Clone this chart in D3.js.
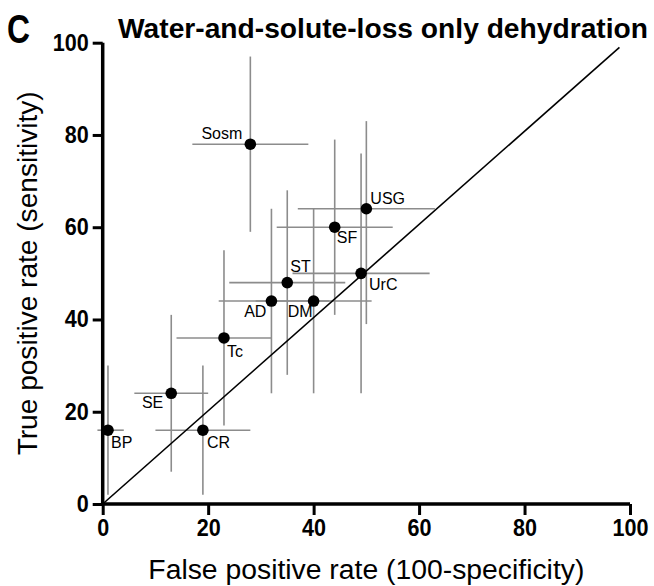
<!DOCTYPE html>
<html>
<head>
<meta charset="utf-8">
<script src="https://cdn.jsdelivr.net/npm/d3@7"></script>
<style>
  body { margin: 0; background: #fff; }
  text { font-family: Arial, "Liberation Sans", sans-serif; }
</style>
</head>
<body>
<script>
// values
var tests = ["BP", "SE", "CR", "Tc", "AD", "DM", "ST", "UrC", "SF", "USG", "Sosm"];
var fpr   = [1, 13, 19, 23, 32, 40, 35, 49, 44, 50, 28];
var tpr   = [16, 24, 16, 36, 44, 44, 48, 50, 60, 64, 78];
var fprLo = [-1, 6, 10, 14, 22, 29, 24, 36, 33, 37, 17];
var fprHi = [4, 20, 28, 32, 43, 51, 46, 62, 55, 63, 39];
var tprLo = [2, 7, 2, 17, 24, 24, 28, 24, 41, 39, 59];
var tprHi = [30, 41, 30, 55, 64, 64, 68, 76, 79, 83, 97];
var ticks = [0, 20, 40, 60, 80, 100];
var diagX = [0, 98];
var diagY = [0, 99];

var W = 654, H = 586;
var svg = d3.select("body").append("svg")
    .attr("width", W)
    .attr("height", H);

var x = d3.scaleLinear().domain([0, 100]).range([102.7, 630]);
var y = d3.scaleLinear().domain([0, 100]).range([504, 42.7]);

// where each label sits next to its dot
var lab = {
  Sosm: ["end", -8, -5], ST: ["start", 3, -11], SF: ["start", 2, 16],
  USG: ["start", 4, -5], UrC: ["start", 8, 17], AD: ["end", -5, 16],
  DM: ["end", -1, 16], Tc: ["start", 3, 19], SE: ["end", -8, 15],
  CR: ["start", 4, 18], BP: ["start", 3, 18]
};

var pts = tests.map(function(t, i) {
  return {name: t, x: fpr[i], y: tpr[i], x0: fprLo[i], x1: fprHi[i], y0: tprLo[i], y1: tprHi[i]};
});

// error bars
var bars = svg.append("g").attr("stroke", "#8c8c8c").attr("stroke-width", 1.6);
bars.selectAll("line.h").data(pts).enter().append("line")
    .attr("class", "h")
    .attr("x1", function(d) { return x(d.x0); })
    .attr("x2", function(d) { return x(d.x1); })
    .attr("y1", function(d) { return y(d.y); })
    .attr("y2", function(d) { return y(d.y); });
bars.selectAll("line.v").data(pts).enter().append("line")
    .attr("class", "v")
    .attr("x1", function(d) { return x(d.x); })
    .attr("x2", function(d) { return x(d.x); })
    .attr("y1", function(d) { return y(d.y0); })
    .attr("y2", function(d) { return y(d.y1); });

// chance line
svg.append("line")
    .attr("x1", x(diagX[0])).attr("y1", y(diagY[0]))
    .attr("x2", x(diagX[1])).attr("y2", y(diagY[1]))
    .attr("stroke", "#000")
    .attr("stroke-width", 1.6);

// dots
svg.selectAll("circle").data(pts).enter().append("circle")
    .attr("cx", function(d) { return x(d.x); })
    .attr("cy", function(d) { return y(d.y); })
    .attr("r", 5.8)
    .attr("fill", "#000");

svg.selectAll("text.lab").data(pts).enter().append("text")
    .attr("class", "lab")
    .attr("x", function(d) { return x(d.x) + lab[d.name][1]; })
    .attr("y", function(d) { return y(d.y) + lab[d.name][2]; })
    .attr("text-anchor", function(d) { return lab[d.name][0]; })
    .style("font-size", "16px")
    .text(function(d) { return d.name; });

// axes
var xAxis = svg.append("g")
    .attr("transform", "translate(0," + y(0) + ")")
    .call(d3.axisBottom(x).tickValues(ticks).tickSize(11).tickPadding(4));
var yAxis = svg.append("g")
    .attr("transform", "translate(" + x(0) + ",0)")
    .call(d3.axisLeft(y).tickValues(ticks).tickSize(10).tickPadding(4));

[xAxis, yAxis].forEach(function(a) {
  a.select(".domain").attr("stroke-width", 3.5).attr("stroke", "#000");
  a.selectAll(".tick line").attr("stroke-width", 3).attr("stroke", "#000");
  // labels in the reference are tall and narrow
  a.selectAll(".tick text")
      .attr("fill", "#000")
      .style("font-family", "Arial, 'Liberation Sans', sans-serif")
      .style("font-weight", "bold")
      .style("font-size", "23px")
      .attr("textLength", function(d) { return String(d).length * 12; })
      .attr("lengthAdjust", "spacingAndGlyphs");
});
xAxis.selectAll(".tick text").attr("dy", "0.74em");
xAxis.select(".domain").attr("d", "M" + x(0) + ",0H" + x(100));
yAxis.select(".domain").attr("d", "M0," + y(0) + "V" + y(100));

// titles
svg.append("text")
    .attr("x", 118).attr("y", 38)
    .style("font-weight", "bold")
    .style("font-size", "27px")
    .attr("textLength", 530)
    .attr("lengthAdjust", "spacingAndGlyphs")
    .text("Water-and-solute-loss only dehydration");

svg.append("text")
    .attr("x", 7).attr("y", 43)
    .style("font-weight", "bold")
    .style("font-size", "40px")
    .attr("textLength", 23)
    .attr("lengthAdjust", "spacingAndGlyphs")
    .text("C");

svg.append("text")
    .attr("x", (x(0) + x(100)) / 2).attr("y", 579)
    .attr("text-anchor", "middle")
    .style("font-size", "27px")
    .attr("textLength", 436)
    .attr("lengthAdjust", "spacingAndGlyphs")
    .text("False positive rate (100-specificity)");

svg.append("text")
    .attr("transform", "translate(37," + (y(0) + y(100)) / 2 + ") rotate(-90)")
    .attr("text-anchor", "middle")
    .style("font-size", "27px")
    .attr("textLength", 364)
    .attr("lengthAdjust", "spacingAndGlyphs")
    .text("True positive rate (sensitivity)");
</script>
</body>
</html>
